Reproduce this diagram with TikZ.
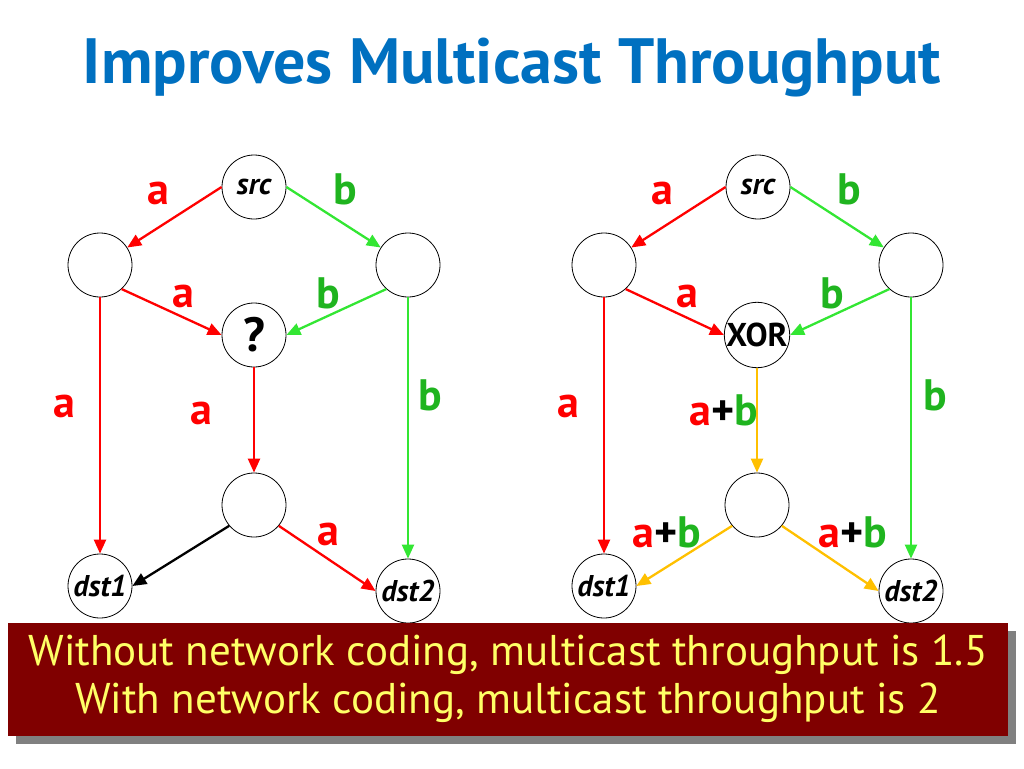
\documentclass[tikz,border=0pt]{standalone}
\usepackage{fontspec}
\setmainfont{PT Sans}
\usepackage{tikz}
\usetikzlibrary{arrows.meta,positioning,calc,shadows}

\definecolor{linkred}{HTML}{FF0000}
\definecolor{linkgreen}{HTML}{33E633}
\definecolor{labgreen}{HTML}{1FB41F}
\definecolor{linkorange}{HTML}{FFC000}
\definecolor{titleblue}{HTML}{0070C0}
\definecolor{boxred}{HTML}{800000}
\definecolor{boxtext}{HTML}{FFFF66}

\newcommand{\aplusb}{\textcolor{linkred}{a}+\textcolor{labgreen}{b}}

\begin{document}
\begin{tikzpicture}[x=1pt, y=-1pt,
        nd/.style={circle, draw, fill=white, line width=0.8pt, minimum size=64pt, inner sep=0pt, font=\fontsize{30}{30}\selectfont\bfseries\itshape},
        arr/.style={-{Triangle[length=14pt,width=12pt]}, line width=2.3pt},
        lab/.style={font=\fontsize{44}{44}\selectfont\bfseries},
        laba/.style={lab, text=linkred},
        labb/.style={lab, text=labgreen}
    ]
    \useasboundingbox (0,0) rectangle (1024,768);

    % Title
    \node[font=\fontsize{64}{64}\selectfont\bfseries, text=titleblue] (title) at (512,68) {Improves Multicast Throughput};

    % Without coding
    \node[nd] (src1) at (254,187) {src};
    \node[nd] (lft1) at (100,265) {};
    \node[nd] (rgt1) at (408,265) {};
    \node[nd, font=\fontsize{48}{48}\selectfont\bfseries] (q) at (254,335) {?};
    \node[nd] (mid1) at (254,505) {};
    \node[nd] (dsta1) at (100,586) {dst1};
    \node[nd] (dstb1) at (408,591) {dst2};

    \draw[arr, linkred] (src1.west) -- (lft1);
    \draw[arr, linkgreen] (src1.east) -- (rgt1);
    \draw[arr, linkred] (lft1.-48) -- (q.west);
    \draw[arr, linkgreen] (rgt1.228) -- (q.east);
    \draw[arr, linkred] (lft1) -- (dsta1);
    \draw[arr, linkgreen] (rgt1) -- (dstb1);
    \draw[arr, linkred] (q) -- (mid1);
    \draw[arr, black] (mid1.220) -- (dsta1.east);
    \draw[arr, linkred] (mid1.-40) -- (dstb1.west);

    \node[laba] (la11) at (158,193) {a};
    \node[labb] (lb11) at (345,189) {b};
    \node[laba] (la12) at (183,296) {a};
    \node[labb] (lb12) at (328,293) {b};
    \node[laba] (la13) at (64,406) {a};
    \node[laba] (la14) at (201,413) {a};
    \node[labb] (lb13) at (430,395) {b};
    \node[laba] (la15) at (328,534) {a};

    % With coding
    \node[nd] (src2) at (758,187) {src};
    \node[nd] (lft2) at (604,265) {};
    \node[nd] (rgt2) at (911,265) {};
    \node[nd, font=\fontsize{33}{33}\selectfont\bfseries] (xor) at (757,335) {XOR};
    \node[nd] (mid2) at (757,505) {};
    \node[nd] (dsta2) at (604,586) {dst1};
    \node[nd] (dstb2) at (911,591) {dst2};

    \draw[arr, linkred] (src2.west) -- (lft2);
    \draw[arr, linkgreen] (src2.east) -- (rgt2);
    \draw[arr, linkred] (lft2.-48) -- (xor.west);
    \draw[arr, linkgreen] (rgt2.228) -- (xor.east);
    \draw[arr, linkred] (lft2) -- (dsta2);
    \draw[arr, linkgreen] (rgt2) -- (dstb2);
    \draw[arr, linkorange] (xor) -- (mid2);
    \draw[arr, linkorange] (mid2.220) -- (dsta2.east);
    \draw[arr, linkorange] (mid2.-40) -- (dstb2.west);

    \node[laba] (la21) at (662,193) {a};
    \node[labb] (lb21) at (849,189) {b};
    \node[laba] (la22) at (687,296) {a};
    \node[labb] (lb22) at (832,293) {b};
    \node[laba] (la23) at (568,406) {a};
    \node[lab] (lab21) at (724,410) {\aplusb};
    \node[labb] (lb23) at (935,395) {b};
    \node[lab] (lab22) at (667,532) {\aplusb};
    \node[lab] (lab23) at (853,532) {\aplusb};

    % Summary box
    \node[draw=none, fill=boxred, minimum width=1000pt, minimum height=113pt, inner sep=0pt,
          drop shadow={shadow xshift=8pt, shadow yshift=-8pt, fill=gray, opacity=1},
          align=center, text=boxtext, font=\fontsize{43}{48}\selectfont] (note) at (508,679)
          {Without network coding, multicast throughput is 1.5\\With network coding, multicast throughput is 2};
\end{tikzpicture}
\end{document}
